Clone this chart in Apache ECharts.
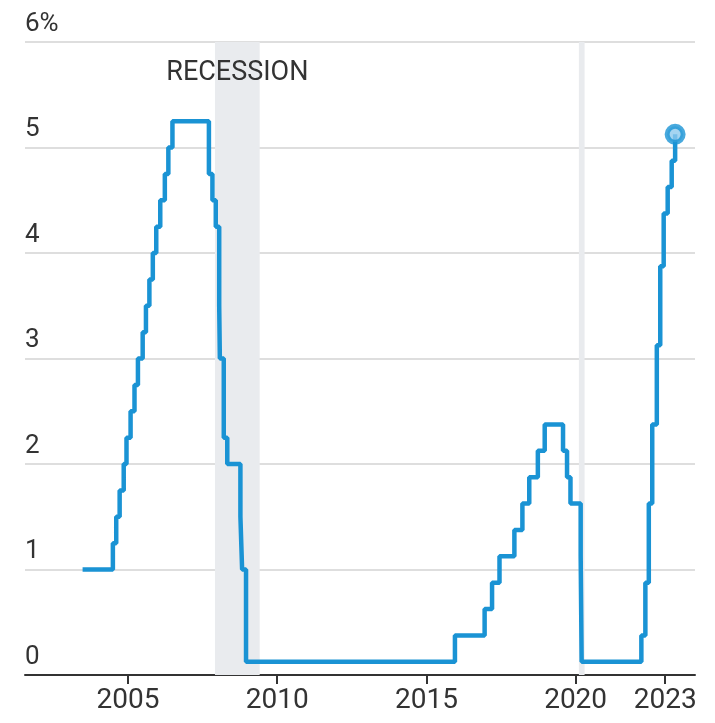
<!DOCTYPE html>
<html><head><meta charset="utf-8">
<script src="https://cdn.jsdelivr.net/npm/echarts@6/dist/echarts.min.js"></script>
<style>html,body{margin:0;padding:0;background:#fff}#c{width:715px;height:723px}</style>
</head><body><div id="c"></div>
<script>
// Federal funds rate (target / midpoint of target range), date of each change
const changeDates = ['2003-06-25','2004-06-30','2004-08-10','2004-09-21','2004-11-10','2004-12-14',
  '2005-02-02','2005-03-22','2005-05-03','2005-06-30','2005-08-09','2005-09-20','2005-11-01','2005-12-13',
  '2006-01-31','2006-03-28','2006-05-10','2006-06-29','2007-09-18','2007-10-31','2007-12-11',
  '2008-01-22','2008-01-30','2008-03-18','2008-04-30','2008-10-08','2008-10-29','2008-12-16',
  '2015-12-16','2016-12-14','2017-03-15','2017-06-14','2017-12-13','2018-03-21','2018-06-13',
  '2018-09-26','2018-12-19','2019-07-31','2019-09-18','2019-10-30','2020-03-03','2020-03-15',
  '2022-03-16','2022-05-04','2022-06-15','2022-07-27','2022-09-21','2022-11-02','2022-12-14',
  '2023-02-01','2023-03-22','2023-05-03'];
const rates = [1.00,1.25,1.50,1.75,2.00,2.25,
  2.50,2.75,3.00,3.25,3.50,3.75,4.00,4.25,
  4.50,4.75,5.00,5.25,4.75,4.50,4.25,
  3.50,3.00,2.25,2.00,1.50,1.00,0.125,
  0.375,0.625,0.875,1.125,1.375,1.625,1.875,
  2.125,2.375,2.125,1.875,1.625,1.125,0.125,
  0.375,0.875,1.625,2.375,3.125,3.875,4.375,
  4.625,4.875,5.125];
const xTickYears = [2005, 2010, 2015, 2020, 2023];
const yTicks = [0, 1, 2, 3, 4, 5, 6];
const recessionStarts = ['2007-12-01', '2020-02-10'];
const recessionEnds = ['2009-06-01', '2020-04-20'];
const recessionLabels = ['RECESSION', ''];

function toYear(s) {
  const d = new Date(s + 'T00:00:00Z');
  const y = d.getUTCFullYear();
  const a = Date.UTC(y, 0, 1), b = Date.UTC(y + 1, 0, 1);
  return y + (d.getTime() - a) / (b - a);
}

const lineData = changeDates.map((d, i) => [toYear(d), rates[i]]);
const lastPoint = lineData[lineData.length - 1];
const FONT = 'Roboto';
const TXT = '#333333';

const chart = echarts.init(document.getElementById('c'), null, {renderer: 'canvas'});
chart.setOption({
  animation: false,
  backgroundColor: '#ffffff',
  grid: {left: 25, right: 20, top: 42, bottom: 48, containLabel: false},
  xAxis: {
    type: 'value', min: 2001.55, max: 2024.0,
    axisLine: {show: true, lineStyle: {color: '#333', width: 2}},
    axisTick: {show: true, length: 9, lineStyle: {color: '#333', width: 2}, customValues: xTickYears},
    axisLabel: {customValues: xTickYears, fontFamily: FONT, fontSize: 28, color: TXT, margin: 12,
      formatter: v => String(v)},
    splitLine: {show: false}
  },
  yAxis: {
    type: 'value', min: 0, max: 6, interval: 1,
    axisLine: {show: false}, axisTick: {show: false},
    axisLabel: {inside: true, margin: 0, verticalAlign: 'bottom', align: 'left',
      padding: [0, 0, 5, 0], fontFamily: FONT, fontSize: 26, color: TXT,
      formatter: v => v === 6 ? '6%' : String(v)},
    splitLine: {show: true, lineStyle: {color: '#dedede', width: 2}}
  },
  series: [{
    type: 'line', step: 'end', data: lineData, symbol: 'none',
    lineStyle: {color: '#1a93d4', width: 4.5}, z: 3,
    markArea: {
      silent: true,
      itemStyle: {color: '#e9ebee'},
      data: recessionStarts.map((s, i) => [
        {xAxis: toYear(s), name: recessionLabels[i],
         label: {show: recessionLabels[i] !== '', position: 'insideTop', distance: 18,
           fontFamily: FONT, fontSize: 27, color: TXT, formatter: '{b}'}},
        {xAxis: toYear(recessionEnds[i])}
      ])
    }
  }, {
    type: 'scatter', data: [lastPoint], symbol: 'circle', symbolSize: 16, z: 4,
    itemStyle: {color: '#8ec9ee', borderColor: '#1a93d4', borderWidth: 5}
  }]
});
</script></body></html>
